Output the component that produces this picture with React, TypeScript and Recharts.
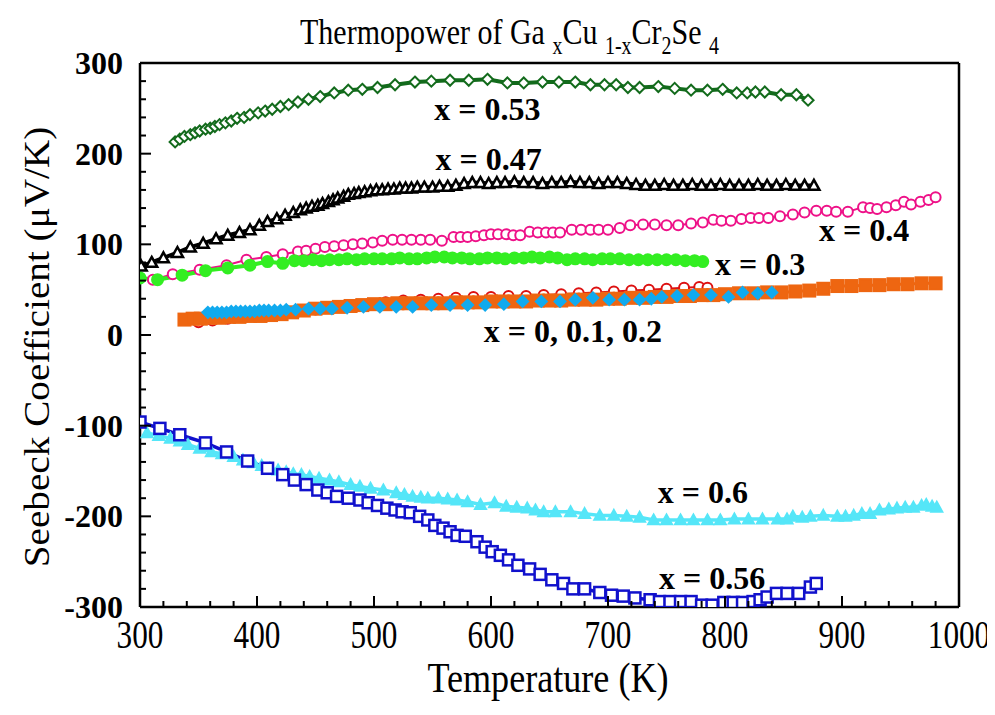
import { LineChart, Line, XAxis, YAxis, ReferenceDot } from 'recharts';

// [temperature K, Seebeck µV/K]
const x053 = [[330,213],[334,216],[338,219],[343,221],[347,223],[351,225],[356,227],[360,228],[364,230],[368,232],[373,234],[378,236],[383,239],[389,240],[394,243],[401,245],[407,247],[413,249],[420,252],[427,254],[435,257],[444,260],[454,263],[466,267],[478,270],[490,271],[503,273],[518,276],[535,279],[549,280],[565,281],[581,281],[597,282],[614,278],[628,278],[644,279],[658,279],[672,279],[685,276],[697,276],[707,276],[717,273],[727,273],[743,274],[757,272],[771,270],[785,270],[798,271],[810,267],[819,267],[826,268],[834,268],[848,265],[861,265],[871,259]];

const x047 = [[301,76],[310,80],[320,85],[332,91],[343,97],[354,101],[365,106],[375,110],[385,113],[394,116],[402,121],[409,125],[417,128],[424,132],[431,135],[437,138],[442,140],[447,142],[452,143],[456,145],[461,147],[465,149],[469,151],[474,153],[478,155],[483,156],[487,157],[492,158],[497,159],[502,160],[507,160],[512,161],[517,161],[522,162],[527,162],[532,162],[537,163],[543,163],[550,163],[556,164],[563,164],[570,165],[577,167],[584,168],[591,168],[598,167],[605,168],[612,168],[620,169],[628,168],[636,168],[644,167],[652,168],[660,168],[668,169],[676,168],[684,168],[692,167],[700,168],[708,168],[716,167],[724,166],[732,165],[740,165],[748,166],[756,165],[764,165],[772,166],[780,165],[788,165],[796,166],[804,165],[812,165],[820,165],[828,166],[836,165],[844,165],[852,166],[860,165],[868,165],[876,165]];

const x04 = [[311,61],[328,67],[351,72],[374,77],[391,83],[408,86],[422,89],[435,92],[442,93],[450,95],[458,97],[466,98],[474,99],[482,100],[490,101],[499,102],[507,104],[516,105],[524,105],[532,105],[540,105],[548,105],[558,104],[568,108],[574,108],[580,108],[587,109],[594,110],[600,111],[606,111],[613,111],[619,110],[625,110],[633,114],[640,113],[647,113],[653,113],[659,113],[669,116],[677,116],[685,116],[692,116],[700,116],[710,118],[719,121],[730,122],[740,122],[750,121],[760,121],[771,123],[781,124],[790,127],[797,126],[805,126],[814,128],[822,129],[829,129],[837,129],[847,131],[858,133],[868,135],[878,137],[887,137],[895,136],[905,136],[918,141],[924,140],[930,139],[938,141],[946,143],[953,147],[959,144],[967,147],[974,149],[980,152]];

const x03 = [[300,63],[315,61],[336,66],[356,71],[375,74],[394,77],[409,81],[422,79],[432,82],[440,82],[448,83],[455,82],[462,83],[470,83],[477,84],[485,83],[492,84],[500,84],[507,84],[515,84],[522,85],[530,84],[537,84],[545,85],[552,86],[560,86],[567,85],[575,85],[582,84],[590,84],[597,85],[605,85],[612,84],[620,85],[628,85],[635,86],[642,85],[650,86],[657,85],[665,83],[672,84],[680,84],[687,83],[695,84],[702,84],[710,84],[718,83],[726,83],[734,83],[742,83],[750,83],[758,83],[766,82],[774,82],[781,81]];

const x00 = [[350,14],[362,16],[375,18],[390,20],[405,22],[420,24],[435,26],[450,28],[465,30],[480,32],[495,34],[510,36],[525,38],[540,39],[555,40],[570,41],[585,42],[600,42],[615,43],[630,43],[645,44],[660,45],[675,46],[690,47],[705,48],[720,49],[735,50],[750,51],[765,52],[778,53],[785,52]];

const x01 = [[338,17],[345,18],[352,18],[360,19],[368,19],[376,20],[385,20],[394,21],[403,21],[412,22],[421,23],[430,25],[440,27],[450,29],[460,30],[470,31],[480,32],[490,33],[500,34],[510,34],[520,35],[530,35],[540,35],[550,35],[560,35],[570,36],[580,36],[590,36],[600,37],[610,37],[620,37],[630,37],[640,38],[650,38],[660,38],[670,39],[680,39],[690,39],[700,40],[710,40],[720,41],[730,41],[740,42],[750,42],[760,43],[770,43],[780,44],[790,44],[800,45],[812,46],[824,46],[836,47],[848,47],[860,48],[872,49],[884,51],[896,54],[908,54],[920,55],[932,55],[944,56],[956,56],[968,57],[980,57]];

const x02 = [[358,25],[362,25],[366,25],[370,25],[374,25],[378,26],[382,26],[386,26],[390,26],[394,26],[398,26],[402,27],[406,27],[410,27],[415,27],[420,27],[425,28],[433,28],[444,29],[454,29],[464,29],[477,30],[491,31],[505,31],[519,31],[533,31],[549,33],[565,33],[580,33],[595,33],[611,34],[627,37],[643,37],[659,37],[672,39],[687,41],[701,39],[714,39],[727,39],[737,40],[746,42],[759,43],[773,44],[788,44],[803,42],[815,47],[828,46],[840,47]];

const x06 = [[306,-108],[316,-111],[326,-114],[334,-117],[341,-121],[351,-125],[361,-129],[370,-131],[380,-134],[388,-138],[397,-141],[404,-144],[411,-147],[418,-149],[425,-151],[431,-153],[438,-154],[445,-156],[453,-158],[462,-160],[470,-162],[480,-165],[488,-167],[497,-169],[508,-171],[519,-174],[526,-176],[533,-178],[540,-179],[546,-180],[555,-180],[563,-181],[571,-182],[580,-184],[591,-187],[603,-185],[613,-189],[622,-190],[631,-191],[638,-193],[645,-195],[655,-195],[668,-195],[680,-197],[693,-199],[705,-199],[716,-200],[727,-201],[739,-204],[750,-204],[762,-204],[773,-204],[785,-204],[796,-204],[808,-203],[820,-203],[832,-203],[845,-203],[853,-203],[858,-200],[866,-201],[873,-200],[884,-199],[896,-200],[903,-200],[910,-199],[917,-197],[924,-197],[932,-193],[940,-192],[947,-191],[954,-190],[961,-190],[968,-188],[972,-187],[977,-189],[981,-190]];

const x056 = [[300,-96],[317,-103],[334,-110],[356,-119],[374,-129],[392,-139],[409,-147],[422,-154],[432,-160],[442,-165],[452,-171],[460,-174],[468,-178],[478,-180],[488,-182],[495,-185],[503,-188],[511,-191],[518,-193],[524,-195],[531,-196],[539,-200],[546,-204],[552,-210],[559,-213],[565,-217],[571,-221],[578,-222],[588,-228],[595,-234],[601,-239],[608,-243],[615,-248],[623,-254],[633,-258],[642,-264],[652,-270],[662,-274],[670,-280],[680,-280],[693,-284],[703,-287],[713,-288],[723,-290],[736,-292],[744,-294],[753,-294],[762,-294],[771,-294],[780,-298],[789,-298],[799,-295],[807,-295],[815,-295],[824,-294],[830,-292],[836,-289],[844,-285],[853,-285],[863,-285],[873,-278],[878,-274]];

const xTickLabels = [300, 400, 500, 600, 700, 800, 900, 1000];
const yTickLabels = [-300, -200, -100, 0, 100, 200, 300];

const annotations = [
  { text: 'x = 0.53', T: 597, S: 250 },
  { text: 'x = 0.47', T: 598, S: 194 },
  { text: 'x = 0.4', T: 919, S: 116 },
  { text: 'x = 0.3', T: 830, S: 79 },
  { text: 'x = 0, 0.1, 0.2', T: 670, S: 5 },
  { text: 'x = 0.6', T: 781, S: -173 },
  { text: 'x = 0.56', T: 789, S: -268 },
];

const toPoints = (arr: number[][]) => arr.map(([T, S]) => ({ T, S }));

// minor ticks every 20 between the labelled ones
const withMinor = (major: number[]) =>
  major.flatMap((v, i) => (i === major.length - 1 ? [v] : [v, v + 20, v + 40, v + 60, v + 80]));

const xTicks = withMinor(xTickLabels);
const yTicks = withMinor(yTickLabels);

const isMajor = (v: number) => v % 100 === 0;

function BottomTick({ x, y, payload }: any) {
  const v = payload.value;
  return (
    <g>
      <line x1={x} x2={x} y1={y} y2={y - (isMajor(v) ? 11 : 6)} stroke="#000" strokeWidth={2} />
      {isMajor(v) && (
        <text
          transform={`translate(${x},${y + 41}) scale(0.78,1)`}
          textAnchor="middle"
          fontFamily="Liberation Serif"
          fontSize={40}
          fill="#000"
        >
          {v}
        </text>
      )}
    </g>
  );
}

function TopTick({ x, y, payload }: any) {
  const v = payload.value;
  return <line x1={x} x2={x} y1={y} y2={y + (isMajor(v) ? 11 : 6)} stroke="#000" strokeWidth={2} />;
}

function LeftTick({ x, y, payload }: any) {
  const v = payload.value;
  return (
    <g>
      <line x1={x} x2={x + (isMajor(v) ? 11 : 6)} y1={y} y2={y} stroke="#000" strokeWidth={2} />
      {isMajor(v) && (
        <text x={x - 17} y={y + 11} textAnchor="end" fontFamily="Liberation Serif" fontWeight="bold" fontSize={32} fill="#000">
          {v}
        </text>
      )}
    </g>
  );
}

function RightTick({ x, y, payload }: any) {
  const v = payload.value;
  return <line x1={x} x2={x - (isMajor(v) ? 11 : 6)} y1={y} y2={y} stroke="#000" strokeWidth={2} />;
}

// marker shapes
const circle = (stroke: string, fill: string, r: number) => (p: any) =>
  <circle key={p.index} cx={p.cx} cy={p.cy} r={r} stroke={stroke} strokeWidth={2} fill={fill} />;

const square = (stroke: string, fill: string, h: number, sw = 2) => (p: any) =>
  <rect key={p.index} x={p.cx - h} y={p.cy - h} width={2 * h} height={2 * h} stroke={stroke} strokeWidth={sw} fill={fill} />;

const diamond = (stroke: string, fill: string, h: number) => (p: any) =>
  <path key={p.index} d={`M${p.cx},${p.cy - h}L${p.cx + h},${p.cy}L${p.cx},${p.cy + h}L${p.cx - h},${p.cy}Z`} stroke={stroke} strokeWidth={2} fill={fill} />;

const triangle = (stroke: string, fill: string, h: number, sw = 2) => (p: any) =>
  <path key={p.index} d={`M${p.cx},${p.cy - h}L${p.cx + h},${p.cy + h * 0.8}L${p.cx - h},${p.cy + h * 0.8}Z`} stroke={stroke} strokeWidth={sw} fill={fill} />;

const fontSerif = '"Liberation Serif", "Times New Roman", serif';
const sub = { fontSize: 20, position: 'relative' as const, top: 8 };

export default function App() {
  return (
    <div style={{ position: 'relative', width: 987, height: 699, background: '#fff', fontFamily: fontSerif }}>
      <div
        style={{
          position: 'absolute',
          left: 292,
          top: 2,
          fontSize: 30,
          whiteSpace: 'nowrap',
          lineHeight: '36px',
          transform: 'scale(1, 1.22)',
          transformOrigin: 'left top',
        }}
      >
        Thermopower of Ga <span style={sub}>x</span>Cu <span style={sub}>1-x</span>Cr<span style={sub}>2</span>Se{' '}
        <span style={sub}>4</span>
      </div>
      <div
        style={{
          position: 'absolute',
          left: 30,
          top: 339,
          fontSize: 35,
          whiteSpace: 'nowrap',
          transform: 'translate(-50%, -50%) rotate(-90deg) scale(1.12, 1)',
        }}
      >
        Seebeck Coefficient (μV/K)
      </div>
      <div
        style={{
          position: 'absolute',
          left: 540,
          top: 670,
          fontSize: 42,
          lineHeight: '44px',
          whiteSpace: 'nowrap',
          transform: 'translate(-50%, -50%) scale(0.86, 1)',
        }}
      >
        Temperature (K)
      </div>
      <LineChart width={987} height={699} margin={{ top: 54, right: 35, bottom: 40, left: 52 }} style={{ position: 'absolute', left: 0, top: 0 }}>
        <XAxis
          xAxisId="b"
          dataKey="T"
          type="number"
          domain={[300, 1000]}
          ticks={xTicks}
          interval={0}
          tick={<BottomTick />}
          tickLine={false}
          tickSize={0}
          tickMargin={0}
          height={60}
          axisLine={{ stroke: '#000', strokeWidth: 2.5 }}
          allowDataOverflow
        />
        <XAxis
          xAxisId="t"
          orientation="top"
          dataKey="T"
          type="number"
          domain={[300, 1000]}
          ticks={xTicks}
          interval={0}
          tick={<TopTick />}
          tickLine={false}
          tickSize={0}
          tickMargin={0}
          height={1}
          axisLine={{ stroke: '#000', strokeWidth: 2.5 }}
        />
        <YAxis
          yAxisId="l"
          type="number"
          domain={[-300, 300]}
          ticks={yTicks}
          interval={0}
          tick={<LeftTick />}
          tickLine={false}
          tickSize={0}
          tickMargin={0}
          width={80}
          axisLine={{ stroke: '#000', strokeWidth: 2.5 }}
          allowDataOverflow
        />
        <YAxis
          yAxisId="r"
          orientation="right"
          type="number"
          domain={[-300, 300]}
          ticks={yTicks}
          interval={0}
          tick={<RightTick />}
          tickLine={false}
          tickSize={0}
          tickMargin={0}
          width={1}
          axisLine={{ stroke: '#000', strokeWidth: 2.5 }}
        />

        <Line xAxisId="b" yAxisId="l" data={toPoints(x053)} dataKey="S" stroke="#136b1c" strokeWidth={4} dot={diamond('#136b1c', '#fff', 5.5)} isAnimationActive={false} />
        <Line xAxisId="b" yAxisId="l" data={toPoints(x047)} dataKey="S" stroke="#000" strokeWidth={4} dot={triangle('#000', '#fff', 5.5, 2.5)} isAnimationActive={false} />
        <Line xAxisId="b" yAxisId="l" data={toPoints(x04)} dataKey="S" stroke="#ee1188" strokeWidth={2} dot={circle('#ee1188', '#fff', 5)} isAnimationActive={false} />
        <Line xAxisId="b" yAxisId="l" data={toPoints(x03)} dataKey="S" stroke="#33ee22" strokeWidth={4} dot={circle('#33ee22', '#33ee22', 5.5)} isAnimationActive={false} />
        <Line xAxisId="b" yAxisId="l" data={toPoints(x00)} dataKey="S" stroke="#dd1111" strokeWidth={2} dot={circle('#dd1111', '#fff', 5)} isAnimationActive={false} />
        <Line xAxisId="b" yAxisId="l" data={toPoints(x01)} dataKey="S" stroke="#ee6611" strokeWidth={3} dot={square('#ee6611', '#ee6611', 6)} isAnimationActive={false} />
        <Line xAxisId="b" yAxisId="l" data={toPoints(x02)} dataKey="S" stroke="#11aaee" strokeWidth={2} dot={diamond('#11aaee', '#11aaee', 5.5)} isAnimationActive={false} />
        <Line xAxisId="b" yAxisId="l" data={toPoints(x06)} dataKey="S" stroke="#55e6f8" strokeWidth={3.5} dot={triangle('#55e6f8', '#55e6f8', 5.5)} isAnimationActive={false} />
        <Line xAxisId="b" yAxisId="l" data={toPoints(x056)} dataKey="S" stroke="#1111cc" strokeWidth={3.5} dot={square('#1111cc', '#fff', 5.5, 2.5)} isAnimationActive={false} />

        {annotations.map((a) => (
          <ReferenceDot
            key={a.text}
            xAxisId="b"
            yAxisId="l"
            x={a.T}
            y={a.S}
            r={0}
            fill="none"
            stroke="none"
            label={{ value: a.text, position: 'center', fontFamily: fontSerif, fontWeight: 'bold', fontSize: 32, fill: '#000' }}
          />
        ))}
      </LineChart>
    </div>
  );
}
